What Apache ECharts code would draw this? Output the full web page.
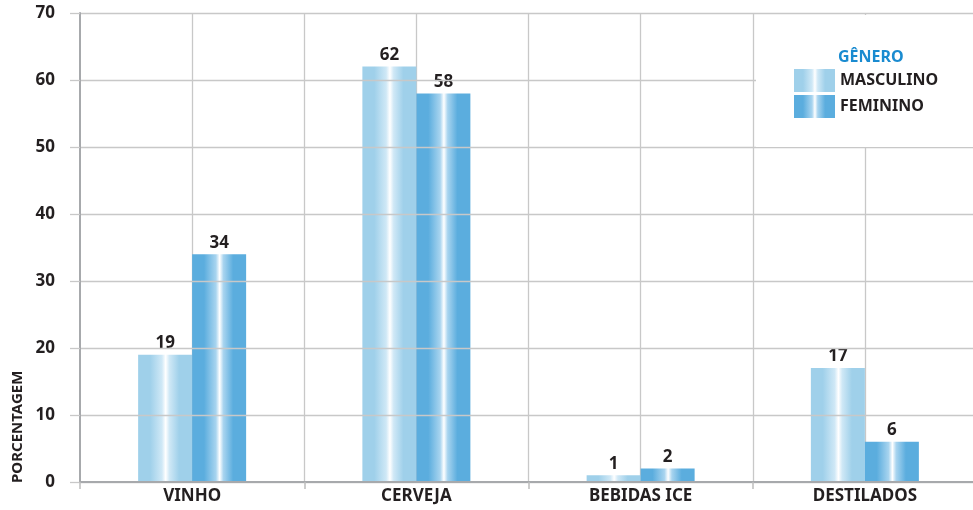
<!DOCTYPE html>
<html>
<head>
<meta charset="utf-8">
<script src="https://cdn.jsdelivr.net/npm/echarts@6/dist/echarts.min.js"></script>
<style>
html,body{margin:0;padding:0;background:#fff;}
#chart{width:973px;height:510px;}
</style>
</head>
<body>
<div id="chart"></div>
<script>
const categories = ['VINHO', 'CERVEJA', 'BEBIDAS ICE', 'DESTILADOS'];
const masculino = [19, 62, 1, 17];
const feminino = [34, 58, 2, 6];
const yTicks = [0, 10, 20, 30, 40, 50, 60, 70];
const seriesNames = ['MASCULINO', 'FEMININO'];
const legendTitle = 'GÊNERO';
const yAxisTitle = 'PORCENTAGEM';

const FONT = '"Noto Sans", "Liberation Sans", sans-serif';
const TXT = '#231f20';

function grad(base, light) {
  return new echarts.graphic.LinearGradient(0, 0, 1, 0, [
    {offset: 0, color: base},
    {offset: 0.22, color: base},
    {offset: 0.44, color: light},
    {offset: 0.51, color: '#ffffff'},
    {offset: 0.58, color: light},
    {offset: 0.76, color: base},
    {offset: 1, color: base}
  ]);
}

const chart = echarts.init(document.getElementById('chart'), null, {renderer: 'canvas'});
const labelStyle = {show: true, position: 'top', distance: 3, color: TXT, fontFamily: FONT, fontWeight: 'bold', fontSize: 17};

chart.setOption({
  animation: false,
  textStyle: {fontFamily: FONT},
  grid: {left: 80, top: 13, width: 897, height: 469, containLabel: false, outerBoundsMode: 'none'},
  xAxis: [{
    type: 'category',
    data: categories,
    boundaryGap: true,
    axisLine: {show: true, lineStyle: {color: '#a7a9ac', width: 2}},
    axisTick: {show: true, length: 7, lineStyle: {color: '#bdbdbd', width: 1.5}},
    axisLabel: {color: TXT, fontFamily: FONT, fontWeight: 'bold', fontSize: 17, margin: 6},
    splitLine: {show: false},
    z: 3
  }, {
    type: 'value',
    min: 0, max: 8, interval: 1,
    position: 'top',
    axisLine: {show: false}, axisTick: {show: false}, axisLabel: {show: false},
    splitLine: {show: true, showMinLine: false, showMaxLine: false, lineStyle: {color: '#c8c8c8', width: 1.3}}
  }],
  yAxis: {
    type: 'value',
    min: yTicks[0], max: yTicks[yTicks.length - 1], interval: 10,
    axisLine: {show: true, lineStyle: {color: '#a7a9ac', width: 2}},
    axisTick: {show: true, length: 10, lineStyle: {color: '#c8c8c8', width: 1.3}},
    axisLabel: {color: TXT, fontFamily: FONT, fontWeight: 'bold', fontSize: 17, margin: 25},
    splitLine: {show: true, lineStyle: {color: '#c8c8c8', width: 1.3}},
    z: 3
  },
  legend: {
    orient: 'vertical',
    left: 794, top: 69, padding: 0,
    itemWidth: 41, itemHeight: 23, itemGap: 3,
    icon: 'rect',
    z: 10,
    textStyle: {color: TXT, fontFamily: FONT, fontWeight: 'bold', fontSize: 16},
    data: seriesNames
  },
  graphic: [
    {type: 'rect', z: 5, shape: {x: 756, y: 15, width: 217, height: 132}, style: {fill: '#ffffff'}},
    {type: 'text', z: 100, x: 838, y: 57, style: {text: legendTitle, fill: '#1a8bd0', font: 'bold 16px ' + FONT, textAlign: 'left', textVerticalAlign: 'middle'}},
    {type: 'text', z: 100, x: 18, y: 483, rotation: Math.PI / 2, style: {text: yAxisTitle, fill: TXT, font: 'bold 15px ' + FONT, textAlign: 'left', textVerticalAlign: 'middle'}}
  ],
  series: [{
    name: seriesNames[0], type: 'bar', data: masculino, barWidth: 54, barGap: '0%',
    itemStyle: {color: grad('#9fd0ea', '#cfe8f6')}, label: labelStyle, z: 2
  }, {
    name: seriesNames[1], type: 'bar', data: feminino, barWidth: 54, barGap: '0%',
    itemStyle: {color: grad('#5badde', '#a8d4ef')}, label: labelStyle, z: 2
  }]
});
</script>
</body>
</html>
